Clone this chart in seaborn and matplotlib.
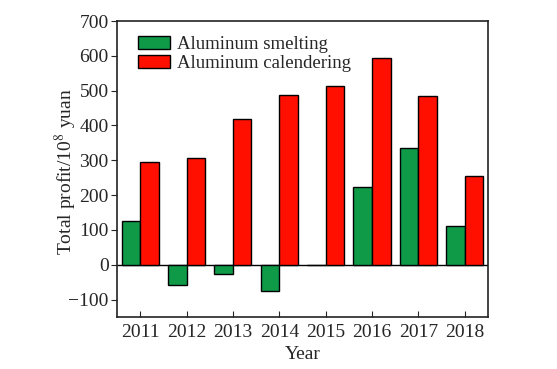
import pandas as pd
import seaborn as sns
import matplotlib.pyplot as plt

# Values
years = ['2011', '2012', '2013', '2014', '2015', '2016', '2017', '2018']
smelting = [126, -57, -27, -76, -2, 224, 336, 110]
calendering = [295, 307, 419, 488, 514, 595, 486, 255]
series_names = ['Aluminum smelting', 'Aluminum calendering']
colors = ['#0f9a48', '#ff0f00']

df = pd.DataFrame({
    'Year': years * 2,
    'Profit': smelting + calendering,
    'Type': [series_names[0]] * len(years) + [series_names[1]] * len(years),
})

sns.set_style('ticks')
plt.rcParams['font.family'] = ['Liberation Serif', 'DejaVu Serif']
plt.rcParams['mathtext.fontset'] = 'stix'

fig = plt.figure(figsize=(5.57, 3.69), dpi=100)
ax = fig.add_axes([0.210, 0.141, 0.666, 0.802])

sns.barplot(data=df, x='Year', y='Profit', hue='Type', palette=colors,
            saturation=1, width=0.8, edgecolor='black', linewidth=1, ax=ax)

ax.axhline(0, color='black', linewidth=1, zorder=0.5)
ax.set_xlim(-0.5, 7.5)
ax.set_ylim(-150, 700)
ax.set_yticks(range(-100, 701, 100))
ax.set_yticklabels(['\u2212100'] + [str(v) for v in range(0, 701, 100)])

ax.set_xlabel('Year', fontsize=14, labelpad=4)
ax.set_ylabel('Total profit/10$^8$ yuan', fontsize=14)
ax.yaxis.set_label_coords(-0.102, 0.49)
ax.tick_params(axis='x', direction='in', length=4, labelsize=14, pad=5)
ax.tick_params(axis='y', direction='out', length=4, labelsize=14, pad=2)
for s in ax.spines.values():
    s.set_linewidth(1.2)
    s.set_color('#222222')

ax.legend(loc='upper left', frameon=False, fontsize=13.5,
          handlelength=1.75, handleheight=0.7, labelspacing=0.1,
          handletextpad=0.35, borderaxespad=0.4, bbox_to_anchor=(0.015, 1.0))

fig.savefig('out.png', dpi=100)
plt.close(fig)
